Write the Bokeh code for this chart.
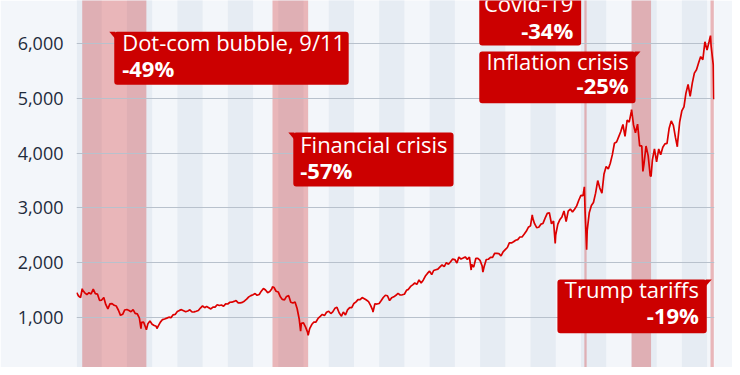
import numpy as np
import pandas as pd
from bokeh.plotting import figure
from bokeh.models import FixedTicker, NumeralTickFormatter, Range1d, BoxAnnotation, Label
from bokeh.embed import file_html
from bokeh.resources import INLINE

# ---------------- data ----------------
# S&P 500 month-end closes, Jan 2000 .. Mar 2025
sp500_2000_2004 = [
    1394, 1366, 1499, 1452, 1421, 1455, 1431, 1518, 1437, 1429, 1315, 1320,
    1366, 1240, 1160, 1249, 1256, 1224, 1211, 1134, 1041, 1060, 1139, 1148,
    1130, 1107, 1147, 1077, 1067, 990, 912, 916, 815, 886, 936, 880,
    856, 841, 848, 917, 964, 975, 990, 1008, 996, 1051, 1058, 1112,
    1131, 1145, 1126, 1107, 1121, 1141, 1102, 1104, 1115, 1130, 1174, 1212,
]
sp500_2005_2009 = [
    1181, 1204, 1181, 1157, 1192, 1191, 1234, 1220, 1229, 1207, 1249, 1248,
    1280, 1281, 1295, 1311, 1270, 1270, 1277, 1304, 1336, 1378, 1401, 1418,
    1438, 1407, 1421, 1482, 1531, 1503, 1455, 1474, 1527, 1549, 1481, 1468,
    1379, 1331, 1323, 1386, 1400, 1280, 1267, 1283, 1166, 969, 896, 903,
    826, 735, 798, 873, 919, 919, 987, 1021, 1057, 1036, 1096, 1115,
]
sp500_2010_2014 = [
    1074, 1104, 1169, 1187, 1089, 1031, 1102, 1049, 1141, 1183, 1181, 1258,
    1286, 1327, 1326, 1364, 1345, 1321, 1292, 1219, 1131, 1253, 1247, 1258,
    1312, 1366, 1408, 1398, 1310, 1362, 1379, 1407, 1441, 1412, 1416, 1426,
    1498, 1515, 1569, 1598, 1631, 1606, 1686, 1633, 1682, 1757, 1806, 1848,
    1783, 1859, 1872, 1884, 1924, 1960, 1931, 2003, 1972, 2018, 2068, 2059,
]
sp500_2015_2019 = [
    1995, 2105, 2068, 2086, 2107, 2063, 2104, 1972, 1920, 2079, 2080, 2044,
    1940, 1932, 2060, 2065, 2097, 2099, 2174, 2171, 2168, 2126, 2199, 2239,
    2279, 2364, 2363, 2384, 2412, 2423, 2470, 2472, 2519, 2575, 2648, 2674,
    2824, 2714, 2641, 2648, 2705, 2718, 2816, 2902, 2914, 2712, 2760, 2507,
    2704, 2784, 2834, 2946, 2752, 2942, 2980, 2926, 2977, 3038, 3141, 3231,
]
sp500_2020_2025 = [
    3226, 2954, 2585, 2912, 3044, 3100, 3271, 3500, 3363, 3270, 3622, 3756,
    3714, 3811, 3973, 4181, 4204, 4298, 4395, 4523, 4308, 4605, 4567, 4766,
    4516, 4374, 4530, 4132, 4132, 3785, 4130, 3955, 3586, 3872, 4080, 3840,
    4077, 3970, 4109, 4169, 4180, 4450, 4589, 4508, 4288, 4194, 4568, 4770,
    4846, 5096, 5254, 5036, 5278, 5460, 5522, 5648, 5762, 5705, 6032, 5882,
    6041, 5955, 5612,
]
# first close and intra-month highs / lows visible in the chart
extreme_dates = [
    "2000-01-03", "2000-03-24", "2002-07-23", "2002-10-09", "2003-03-11",
    "2007-10-09", "2008-11-20", "2009-03-09", "2010-07-02", "2011-10-03",
    "2015-08-25", "2016-02-11", "2018-01-26", "2018-12-24", "2020-02-19",
    "2020-03-23", "2022-01-03", "2022-06-16", "2022-10-12", "2023-10-27",
    "2025-02-19", "2025-04-08",
]
extreme_values = [
    1455, 1527, 798, 777, 801,
    1565, 752, 677, 1023, 1099,
    1868, 1829, 2873, 2351, 3386,
    2237, 4797, 3667, 3577, 4117,
    6144, 4983,
]

# crises
crisis_names = ["Dot-com bubble, 9/11", "Financial crisis", "Covid-19",
                "Inflation crisis", "Trump tariffs"]
crisis_drops = ["-49%", "-57%", "-34%", "-25%", "-19%"]
crisis_start = ["2000-03-24", "2007-10-09", "2020-02-19", "2022-01-03", "2025-02-19"]
crisis_end = ["2002-10-09", "2009-03-09", "2020-03-23", "2022-10-12", "2025-04-08"]

y_ticks = [1000, 2000, 3000, 4000, 5000, 6000]
shaded_years = list(range(2000, 2026, 2))


def dec_year(d):
    ts = pd.Timestamp(d)
    n = 366 if ts.is_leap_year else 365
    return ts.year + (ts.dayofyear - 1) / n


monthly = (sp500_2000_2004 + sp500_2005_2009 + sp500_2010_2014
           + sp500_2015_2019 + sp500_2020_2025)
mdates = pd.date_range(start="2000-01-01", periods=len(monthly), freq="MS") + pd.offsets.MonthEnd(0)
df = pd.DataFrame({"t": [dec_year(d) for d in mdates], "v": monthly})
df2 = pd.DataFrame({"t": [dec_year(d) for d in extreme_dates], "v": extreme_values})
df = pd.concat([df, df2]).sort_values("t").reset_index(drop=True)

# ---------------- layout ----------------
FONT = "Open Sans"
BG = "#f3f6fa"
BAND = "#e6ecf3"
RED = "#cc0000"

W, H = 732, 367
SX, SY = W / 740.0, H / 375.0       # reference-pixel -> figure-pixel
LEFT = 76
FW, FH = 638, 367
X0 = 2000.0
X1 = X0 + FW / (25.5 * SX)
Y_HI = 6000 + 44 / 0.056
Y_LO = Y_HI - 375 / 0.056
TEXT_DY = -10   # baseline correction (figure px)


def xd(rx):
    px = rx * SX
    return X0 + (px - LEFT) / FW * (X1 - X0)


def yd(ry, dy=0.0):
    py = ry * SY + dy
    return Y_HI - py / FH * (Y_HI - Y_LO)


p = figure(frame_width=FW, frame_height=FH, output_backend="svg", toolbar_location=None,
           x_range=Range1d(X0, X1), y_range=Range1d(Y_LO, Y_HI),
           min_border_left=LEFT, min_border_right=W - LEFT - FW,
           min_border_top=0, min_border_bottom=0)
p.background_fill_color = BG
p.border_fill_color = BG
p.outline_line_color = None
p.xaxis.visible = False
p.xgrid.visible = False

p.yaxis.ticker = FixedTicker(ticks=y_ticks)
p.yaxis.formatter = NumeralTickFormatter(format="0,0")
p.yaxis.axis_line_color = None
p.yaxis.major_tick_line_color = None
p.yaxis.minor_tick_line_color = None
p.yaxis.major_tick_out = 0
p.yaxis.major_label_standoff = 13
p.yaxis.major_label_text_font = FONT
p.yaxis.major_label_text_font_size = "18px"
p.yaxis.major_label_text_color = "#1e2b3c"
p.ygrid.grid_line_color = "#b8c1cc"
p.ygrid.grid_line_width = 1

# alternating year bands
ys = np.array(shaded_years, dtype=float)
p.quad(left=ys, right=ys + 1, bottom=Y_LO - 500, top=Y_HI + 500,
       fill_color=BAND, line_color=None, level="image")

# crisis periods
cs = np.array([dec_year(d) for d in crisis_start])
ce = np.array([dec_year(d) for d in crisis_end])
p.quad(left=cs, right=ce, bottom=Y_LO - 500, top=Y_HI + 500,
       fill_color=RED, fill_alpha=0.26, line_color=None, level="image")

# index line
p.line(df["t"], df["v"], line_color="#dc0000", line_width=1.7)

# annotation boxes (reference pixel layout)
box_l = [115, 296, 484, 484, 563]
box_r = [352, 458, 587, 642, 714]
box_t = [32, 135, -30, 52, 285]
box_b = [86, 190, 46, 105, 340]
txt_x = [123, 303, 579, 635, 706]
txt_align = ["left", "left", "right", "right", "right"]
base1 = [53, 157, 13, 72, 305]
base2 = [79, 183, 40, 97, 332]
notch = ["left", "left", None, "right", "right"]

nx, ny = [], []
for i in range(len(crisis_names)):
    p.add_layout(BoxAnnotation(left=xd(box_l[i]), right=xd(box_r[i]),
                               top=yd(box_t[i]), bottom=yd(box_b[i]),
                               fill_color=RED, fill_alpha=1.0, line_alpha=0,
                               border_radius=3))
    if notch[i] == "left":
        L, T = box_l[i], box_t[i]
        nx.append([xd(L - 5), xd(L + 1), xd(L + 1)])
        ny.append([yd(T), yd(T), yd(T + 7)])
    elif notch[i] == "right":
        R, T = box_r[i], box_t[i]
        nx.append([xd(R + 5), xd(R - 1), xd(R - 1)])
        ny.append([yd(T), yd(T), yd(T + 7)])
p.patches(nx, ny, fill_color=RED, line_color=None, level="annotation")

for i in range(len(crisis_names)):
    p.add_layout(Label(x=xd(txt_x[i]), y=yd(base1[i], TEXT_DY), text=crisis_names[i],
                       text_font=FONT, text_font_size="22px", text_color="white",
                       text_align=txt_align[i], text_baseline="alphabetic"))
    p.add_layout(Label(x=xd(txt_x[i]), y=yd(base2[i], TEXT_DY), text=crisis_drops[i],
                       text_font=FONT, text_font_size="22px", text_font_style="bold",
                       text_color="white",
                       text_align=txt_align[i], text_baseline="alphabetic"))

open("out.html", "w").write(file_html(p, INLINE))
